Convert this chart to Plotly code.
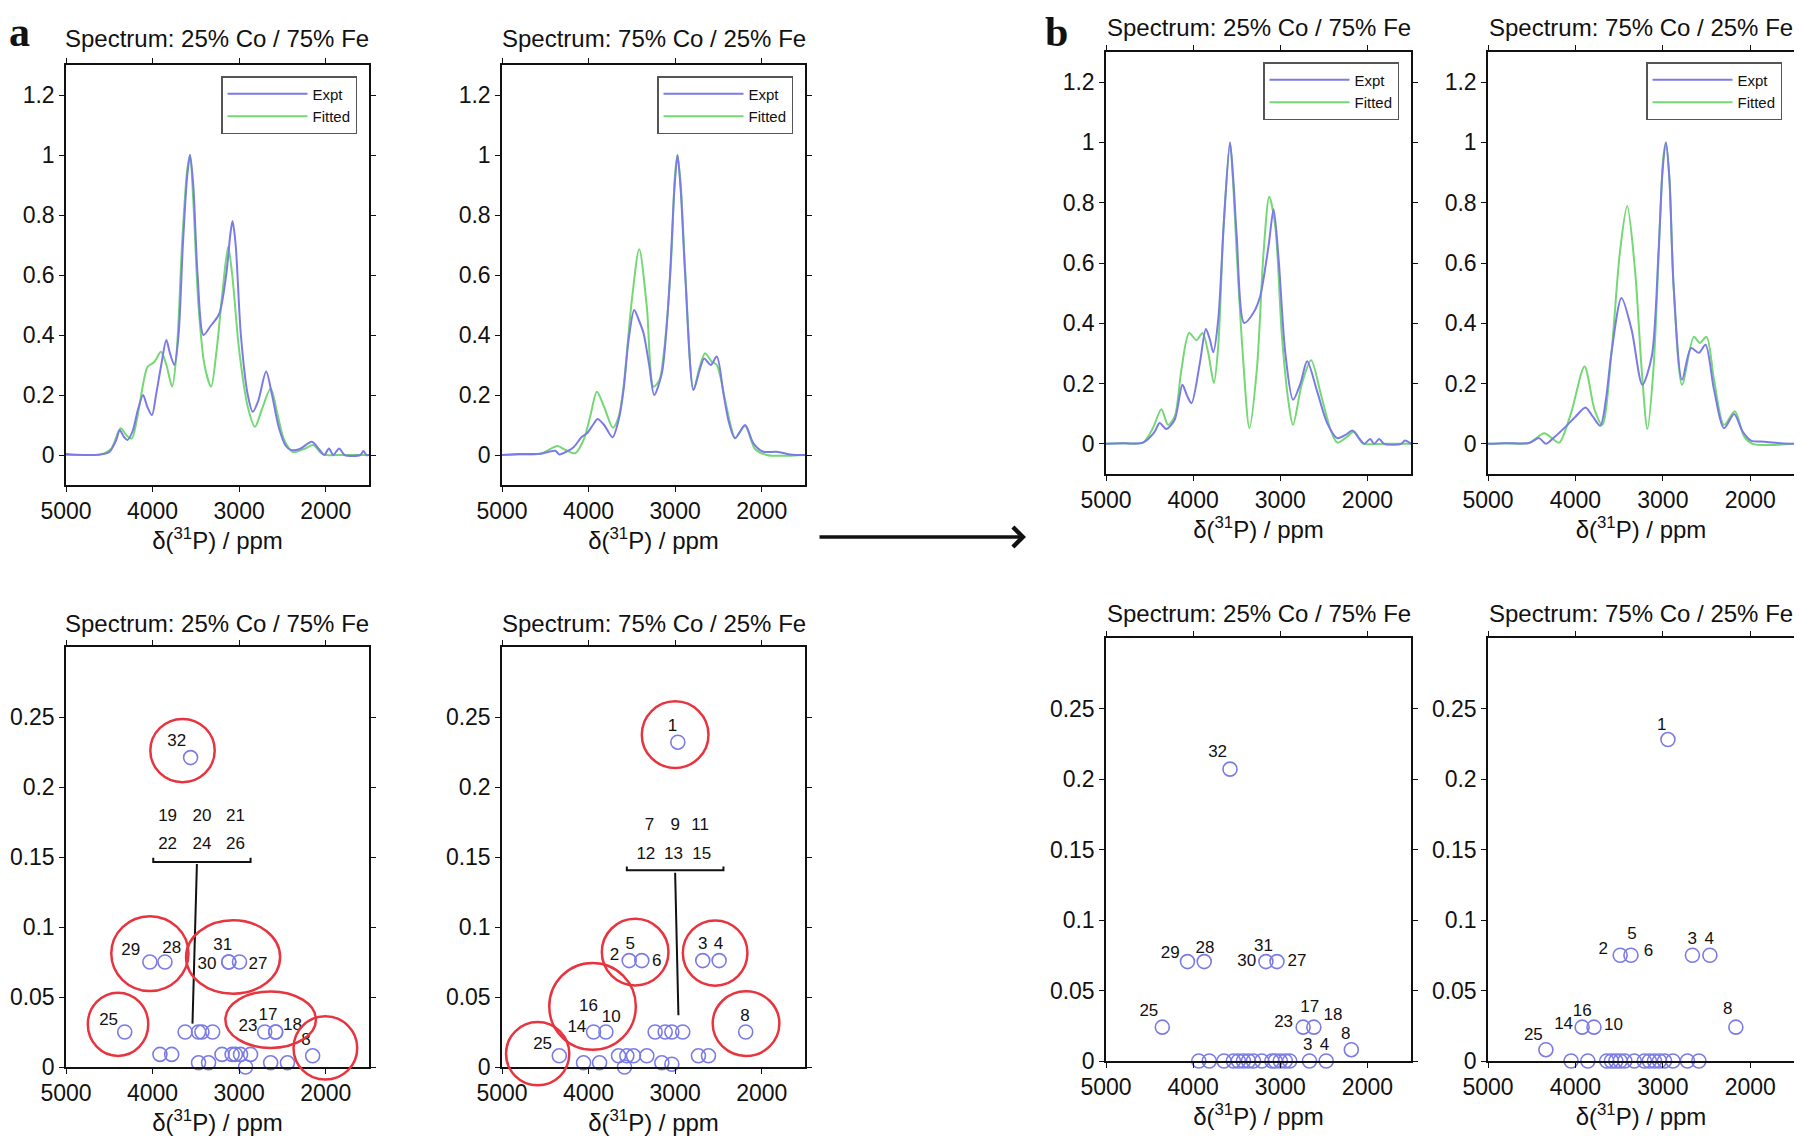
import plotly.graph_objects as go

# ---------------------------------------------------------------------------
# Spectra (ppm / normalised intensity)
# ---------------------------------------------------------------------------
# panel a, 25% Co / 75% Fe
A25_EXPT_PPM = [5000, 4800, 4600, 4500, 4420, 4380, 4330, 4290, 4230, 4170,
                4110, 4060, 4007, 3960, 3900, 3841, 3800, 3748, 3700, 3650,
                3600, 3567, 3530, 3480, 3412, 3330, 3231, 3150, 3100, 3076,
                3040, 2980, 2900, 2843, 2780, 2688, 2620, 2540, 2460, 2403,
                2300, 2160, 2080, 2015, 1963, 1912, 1845, 1782, 1600, 1565,
                1530, 1500]
A25_EXPT_INT = [0.003, 0, 0.002, 0.01, 0.05, 0.083, 0.06, 0.05, 0.08, 0.15,
                0.2, 0.16, 0.133, 0.2, 0.3, 0.383, 0.34, 0.3, 0.4, 0.7,
                0.93, 1.0, 0.9, 0.6, 0.4, 0.43, 0.47, 0.6, 0.74, 0.78,
                0.7, 0.4, 0.2, 0.144, 0.18, 0.278, 0.2, 0.09, 0.03, 0.017,
                0.02, 0.044, 0.02, 0, 0.022, 0, 0.022, 0, 0, 0.013,
                0, 0]
A25_FIT_PPM = [5000, 4800, 4600, 4480, 4369, 4300, 4240, 4180, 4100, 4058,
               3980, 3903, 3840, 3774, 3720, 3660, 3600, 3567, 3530, 3470,
               3400, 3324, 3260, 3190, 3127, 3080, 3000, 2900, 2817, 2740,
               2636, 2560, 2480, 2377, 2250, 2144, 2050, 1990, 1800, 1500]
A25_FIT_INT = [0, 0, 0.002, 0.02, 0.089, 0.065, 0.055, 0.12, 0.25, 0.294,
               0.31, 0.344, 0.3, 0.228, 0.35, 0.7, 0.95, 1.0, 0.85, 0.5,
               0.3, 0.228, 0.35, 0.55, 0.694, 0.6, 0.35, 0.16, 0.094, 0.15,
               0.222, 0.14, 0.05, 0.01, 0.02, 0.033, 0.005, 0, 0, 0]

# panel a, 75% Co / 25% Fe
A75_EXPT_PPM = [5000, 4800, 4558, 4385, 4338, 4250, 4173, 4077, 4019, 3950,
                3896, 3820, 3723, 3650, 3596, 3538, 3473, 3420, 3365, 3300,
                3242, 3154, 3100, 3058, 3010, 2973, 2935, 2885, 2788, 2720,
                2665, 2588, 2519, 2442, 2380, 2308, 2192, 2096, 1981, 1827,
                1673, 1500]
A75_EXPT_INT = [0, 0.003, 0.004, 0.014, 0.002, 0.012, 0.026, 0.061, 0.072, 0.1,
                0.12, 0.1, 0.059, 0.12, 0.217, 0.383, 0.483, 0.45, 0.406, 0.3,
                0.2, 0.272, 0.42, 0.606, 0.88, 1.0, 0.88, 0.606, 0.217, 0.28,
                0.322, 0.3, 0.328, 0.206, 0.11, 0.056, 0.1, 0.039, 0.011, 0.011,
                0.002, 0]
A75_FIT_PPM = [5000, 4800, 4558, 4358, 4269, 4154, 4058, 3980, 3904, 3820,
               3719, 3650, 3596, 3500, 3415, 3327, 3250, 3180, 3135, 3080,
               3038, 3005, 2973, 2935, 2885, 2788, 2720, 2654, 2577, 2519,
               2423, 2360, 2308, 2192, 2077, 1942, 1500]
A75_FIT_INT = [0, 0.002, 0.004, 0.03, 0.017, 0.006, 0.05, 0.13, 0.211, 0.16,
               0.091, 0.13, 0.228, 0.517, 0.686, 0.494, 0.228, 0.25, 0.33, 0.5,
               0.694, 0.92, 1.0, 0.9, 0.62, 0.217, 0.29, 0.339, 0.311, 0.3,
               0.183, 0.1, 0.056, 0.097, 0.02, 0, 0]

# panel b, 25% Co / 75% Fe
B25_EXPT_PPM = [5000, 4800, 4577, 4442, 4385, 4308, 4212, 4123, 4070, 4019,
                3923, 3854, 3808, 3769, 3712, 3646, 3577, 3540, 3500, 3415,
                3308, 3231, 3135, 3077, 3019, 2942, 2854, 2769, 2692, 2577,
                2462, 2346, 2250, 2173, 2100, 2038, 1969, 1923, 1865, 1808,
                1615, 1569, 1500]
B25_EXPT_INT = [0, 0.002, 0.004, 0.04, 0.069, 0.049, 0.08, 0.196, 0.16, 0.135,
                0.268, 0.381, 0.346, 0.304, 0.412, 0.745, 1.0, 0.88, 0.69, 0.401,
                0.435, 0.49, 0.656, 0.778, 0.612, 0.3, 0.146, 0.2, 0.274, 0.174,
                0.069, 0.019, 0.03, 0.044, 0.02, 0, 0.016, 0, 0.016, 0,
                0, 0.011, 0]
B25_FIT_PPM = [5000, 4800, 4577, 4462, 4365, 4288, 4212, 4135, 4046, 3962,
               3892, 3827, 3762, 3712, 3654, 3577, 3540, 3500, 3431, 3354,
               3269, 3192, 3127, 3058, 2981, 2904, 2854, 2750, 2646, 2538,
               2423, 2346, 2231, 2154, 2080, 2038, 1800, 1500]
B25_FIT_INT = [0, 0.002, 0.004, 0.052, 0.115, 0.063, 0.09, 0.246, 0.368, 0.344,
               0.368, 0.302, 0.202, 0.324, 0.7, 1.0, 0.86, 0.634, 0.3, 0.052,
               0.246, 0.634, 0.82, 0.723, 0.357, 0.135, 0.063, 0.202, 0.277, 0.169,
               0.047, 0.004, 0.024, 0.041, 0.01, 0, 0, 0]

# panel b, 75% Co / 25% Fe
B75_EXPT_PPM = [5000, 4800, 4531, 4415, 4338, 4242, 4108, 4000, 3885, 3800,
                3715, 3650, 3588, 3473, 3358, 3235, 3127, 3050, 3005, 2965,
                2925, 2877, 2781, 2677, 2588, 2512, 2415, 2300, 2185, 2088,
                1992, 1838, 1646, 1500]
B75_EXPT_INT = [0, 0.002, 0.003, 0.019, 0, 0.022, 0.058, 0.09, 0.121, 0.09,
                0.06, 0.15, 0.302, 0.484, 0.379, 0.196, 0.29, 0.634, 0.9, 1.0,
                0.88, 0.523, 0.213, 0.318, 0.302, 0.329, 0.18, 0.052, 0.099, 0.041,
                0.011, 0.007, 0.002, 0]
B75_FIT_PPM = [5000, 4800, 4531, 4358, 4262, 4185, 4050, 3896, 3781, 3692,
               3588, 3492, 3408, 3319, 3242, 3177, 3108, 3031, 2995, 2965,
               2925, 2877, 2781, 2646, 2577, 2500, 2415, 2300, 2177, 2069,
               1973, 1500]
B75_FIT_INT = [0, 0.002, 0.003, 0.035, 0.017, 0.004, 0.102, 0.257, 0.113, 0.063,
               0.302, 0.634, 0.789, 0.579, 0.246, 0.049, 0.246, 0.745, 0.95, 1.0,
               0.88, 0.523, 0.196, 0.355, 0.335, 0.355, 0.213, 0.063, 0.108, 0.024,
               0, 0]

# ---------------------------------------------------------------------------
# Site contributions (shift / weight) for the lower panels
# ---------------------------------------------------------------------------
A25_SITE_PPM = [4322, 4031, 3857, 3120, 3120, 2996, 3624, 3469, 3430, 3306,
                2705, 2578, 2578, 2151, 3915, 3779, 3198, 3081, 3043, 2984,
                2868, 3469, 3353, 2926, 2636, 2442, 3561]
A25_SITE_W = [0.025, 0.075, 0.075, 0.075, 0.075, 0.075, 0.025, 0.025, 0.025, 0.025,
              0.025, 0.025, 0.025, 0.008, 0.009, 0.009, 0.009, 0.009, 0.009, 0.009,
              0.009, 0.003, 0.003, 0, 0.003, 0.003, 0.221]
A25_LAB_TEXT = ["32", "29", "28", "31", "30", "27", "25", "23", "17", "18", "8",
                "19", "20", "21", "22", "24", "26"]
A25_LAB_PPM = [3720, 4252, 3779, 3190, 3372, 2783, 4508, 2899, 2667, 2384, 2229,
               3826, 3430, 3043, 3826, 3430, 3043]
A25_LAB_W = [0.232, 0.083, 0.0845, 0.0864, 0.0731, 0.0731, 0.0329, 0.029, 0.0364,
             0.0298, 0.019, 0.179, 0.179, 0.179, 0.159, 0.159, 0.159]

A75_SITE_PPM = [2969, 3531, 3385, 2681, 2492, 2185, 3942, 3800, 4338, 3654,
                3558, 3481, 3327, 2731, 2615, 3231, 3115, 3038, 2912, 4058,
                3873, 3154, 3038, 3585]
A75_SITE_W = [0.232, 0.076, 0.076, 0.076, 0.076, 0.025, 0.025, 0.025, 0.008, 0.008,
              0.008, 0.008, 0.008, 0.008, 0.008, 0.025, 0.025, 0.025, 0.025, 0.003,
              0.003, 0.003, 0.002, 0]
A75_LAB_TEXT = ["1", "5", "2", "6", "3", "4", "8", "16", "10", "14", "25",
                "7", "9", "11", "12", "13", "15"]
A75_LAB_PPM = [3031, 3519, 3700, 3212, 2681, 2500, 2192, 4000, 3738, 4135, 4531,
               3296, 3000, 2712, 3338, 3019, 2692]
A75_LAB_W = [0.2433, 0.0876, 0.0798, 0.075, 0.0876, 0.0876, 0.0357, 0.0433, 0.035,
             0.0279, 0.016, 0.1721, 0.1721, 0.1721, 0.1519, 0.1519, 0.1519]

B25_SITE_PPM = [3577, 4065, 3873, 3165, 3038, 4354, 2738, 2615, 2185, 2665,
                2473, 3935, 3815, 3646, 3538, 3481, 3423, 3365, 3308, 3212,
                3096, 3058, 3000, 2942, 2892]
B25_SITE_W = [0.207, 0.0705, 0.0705, 0.0705, 0.0705, 0.024, 0.024, 0.024, 0.008, 0,
              0, 0, 0, 0, 0, 0, 0, 0, 0, 0,
              0, 0, 0, 0, 0]
B25_LAB_TEXT = ["32", "29", "28", "31", "30", "27", "25", "23", "17", "18", "8",
                "3", "4"]
B25_LAB_PPM = [3719, 4262, 3865, 3192, 3385, 2808, 4508, 2962, 2662, 2396, 2250,
               2685, 2492]
B25_LAB_W = [0.2187, 0.0759, 0.0799, 0.0811, 0.0705, 0.0705, 0.035, 0.0272, 0.0378,
             0.0319, 0.0189, 0.0106, 0.0106]

B75_SITE_PPM = [2942, 3488, 3365, 2662, 2462, 3923, 3788, 2165, 4338, 4050,
                3858, 3642, 3588, 3538, 3488, 3435, 3327, 3212, 3154, 3096,
                3038, 2981, 2885, 2719, 2588]
B75_SITE_W = [0.228, 0.075, 0.075, 0.075, 0.075, 0.024, 0.024, 0.024, 0.008, 0,
              0, 0, 0, 0, 0, 0, 0, 0, 0, 0,
              0, 0, 0, 0, 0]
B75_LAB_TEXT = ["1", "5", "2", "6", "3", "4", "16", "14", "10", "8", "25"]
B75_LAB_PPM = [3012, 3354, 3681, 3165, 2665, 2469, 3923, 4135, 3565, 2258, 4481]
B75_LAB_W = [0.2381, 0.0896, 0.0789, 0.0777, 0.086, 0.086, 0.0351, 0.0256, 0.0249,
             0.0367, 0.0178]

# brackets grouping the unresolved sites (panel a)
A25_BRACKET_PPM = [3992, 3992, 2868, 2868]
A25_BRACKET_W = [0.1495, 0.1464, 0.1464, 0.1495]
A25_STEM_PPM = [3488, 3539]
A25_STEM_W = [0.145, 0.031]
A75_BRACKET_PPM = [3558, 3558, 2442, 2442]
A75_BRACKET_W = [0.1433, 0.1405, 0.1405, 0.1433]
A75_STEM_PPM = [3000, 2962]
A75_STEM_W = [0.1388, 0.0369]

# red rings highlighting site groups (centre / half-widths, data units)
A25_RING_PPM = [4399, 4031, 3070, 2636, 2004, 3654]
A25_RING_W = [0.0305, 0.081, 0.0786, 0.0338, 0.0136, 0.226]
A25_RING_RPPM = [349, 446, 543, 523, 368, 372]
A25_RING_RW = [0.0226, 0.0267, 0.0262, 0.0202, 0.0226, 0.0226]
A75_RING_PPM = [3000, 3462, 2538, 2181, 3954, 4588]
A75_RING_W = [0.2374, 0.0821, 0.0814, 0.031, 0.0433, 0.0095]
A75_RING_RPPM = [385, 385, 373, 385, 500, 365]
A75_RING_RW = [0.0238, 0.0238, 0.0233, 0.0231, 0.031, 0.0226]

TITLE_25 = "Spectrum: 25% Co / 75% Fe"
TITLE_75 = "Spectrum: 75% Co / 25% Fe"
X_TICKS = [5000, 4000, 3000, 2000]
TOP_Y_TICKS = [0, 0.2, 0.4, 0.6, 0.8, 1, 1.2]
BOT_Y_TICKS = [0, 0.05, 0.1, 0.15, 0.2, 0.25]

# ---------------------------------------------------------------------------
# Styling / layout
# ---------------------------------------------------------------------------
# the page body adds an 8 px margin, so the figure is made that much smaller
# and every position below (given in pixels of the original picture) is
# shifted by it
OFF = 8
FW, FH = 1802 - OFF, 1146 - OFF
FONT = "Liberation Sans, Arial, Helvetica, sans-serif"
SERIF = "Liberation Serif, Times New Roman, serif"
BLUE = "#7b7be6"
GREEN = "#74d874"
RED = "#e8343f"
INK = "#111111"

X_RANGE = [5000, 1500]
TOP_Y_RANGE = [-0.1, 1.3]
BOT_Y_RANGE = [0, 0.3]


def px_x(v):
    return (v - OFF) / FW


def px_y(v):
    return 1 - (v - OFF) / FH


# panel frames in picture pixels: (left, right) and (top, bottom)
COL_A_L = (66, 369)
COL_A_R = (502, 805)
COL_B_L = (1106, 1411)
COL_B_R = (1488, 1794)
ROW_A_TOP = (65, 485)
ROW_B_TOP = (52, 474)
ROW_A_BOT = (647, 1067)
ROW_B_BOT = (638, 1061)

# (index, columns, rows, kind, title, title centre y)
PANELS = [
    (1, COL_A_L, ROW_A_TOP, "top", TITLE_25, 39),
    (2, COL_A_R, ROW_A_TOP, "top", TITLE_75, 39),
    (3, COL_B_L, ROW_B_TOP, "top", TITLE_25, 27),
    (4, COL_B_R, ROW_B_TOP, "top", TITLE_75, 27),
    (5, COL_A_L, ROW_A_BOT, "bot", TITLE_25, 623),
    (6, COL_A_R, ROW_A_BOT, "bot", TITLE_75, 623),
    (7, COL_B_L, ROW_B_BOT, "bot", TITLE_25, 613),
    (8, COL_B_R, ROW_B_BOT, "bot", TITLE_75, 613),
]


def ref(letter, i):
    return letter if i == 1 else f"{letter}{i}"


def key(letter, i):
    return f"{letter}axis" if i == 1 else f"{letter}axis{i}"


def widen(dom, rng, pad_lo, pad_hi):
    # grow a domain and its range together so the scale stays identical
    k = (dom[1] - dom[0]) / abs(rng[1] - rng[0])
    s = 1 if rng[1] > rng[0] else -1
    return ([dom[0] - pad_lo * k, dom[1] + pad_hi * k],
            [rng[0] - s * pad_lo, rng[1] + s * pad_hi])


fig = go.Figure()

# --- spectra ---------------------------------------------------------------
SPECTRA = [
    (1, "legend", A25_EXPT_PPM, A25_EXPT_INT, A25_FIT_PPM, A25_FIT_INT),
    (2, "legend2", A75_EXPT_PPM, A75_EXPT_INT, A75_FIT_PPM, A75_FIT_INT),
    (3, "legend3", B25_EXPT_PPM, B25_EXPT_INT, B25_FIT_PPM, B25_FIT_INT),
    (4, "legend4", B75_EXPT_PPM, B75_EXPT_INT, B75_FIT_PPM, B75_FIT_INT),
]
for i, leg, ex, ey, fx, fy in SPECTRA:
    fig.add_trace(go.Scatter(
        x=fx, y=fy, mode="lines", name="Fitted", legend=leg, legendrank=2,
        line=dict(color=GREEN, width=2, shape="spline", smoothing=0.8),
        xaxis=ref("x", i), yaxis=ref("y", i), hoverinfo="skip"))
    fig.add_trace(go.Scatter(
        x=ex, y=ey, mode="lines", name="Expt", legend=leg, legendrank=1,
        line=dict(color=BLUE, width=2, shape="spline", smoothing=0.8),
        xaxis=ref("x", i), yaxis=ref("y", i), hoverinfo="skip"))

# --- site weights ------------------------------------------------------------
SITES = [
    (5, A25_SITE_PPM, A25_SITE_W, A25_LAB_TEXT, A25_LAB_PPM, A25_LAB_W),
    (6, A75_SITE_PPM, A75_SITE_W, A75_LAB_TEXT, A75_LAB_PPM, A75_LAB_W),
    (7, B25_SITE_PPM, B25_SITE_W, B25_LAB_TEXT, B25_LAB_PPM, B25_LAB_W),
    (8, B75_SITE_PPM, B75_SITE_W, B75_LAB_TEXT, B75_LAB_PPM, B75_LAB_W),
]
for i, sx, sy, lt, lx, ly in SITES:
    fig.add_trace(go.Scatter(
        x=sx, y=sy, mode="markers", showlegend=False, cliponaxis=False,
        marker=dict(symbol="circle-open", size=14, color=BLUE,
                    line=dict(width=1.6, color=BLUE)),
        xaxis=ref("x", i), yaxis=ref("y", i), hoverinfo="skip"))
    fig.add_trace(go.Scatter(
        x=lx, y=ly, mode="text", text=lt, showlegend=False, cliponaxis=False,
        textfont=dict(family=FONT, size=17, color=INK),
        xaxis=ref("x", i), yaxis=ref("y", i), hoverinfo="skip"))

for i, bx, by, stx, sty in [(5, A25_BRACKET_PPM, A25_BRACKET_W, A25_STEM_PPM, A25_STEM_W),
                            (6, A75_BRACKET_PPM, A75_BRACKET_W, A75_STEM_PPM, A75_STEM_W)]:
    for xs, ys in [(bx, by), (stx, sty)]:
        fig.add_trace(go.Scatter(
            x=xs, y=ys, mode="lines", showlegend=False, hoverinfo="skip",
            line=dict(color=INK, width=2),
            xaxis=ref("x", i), yaxis=ref("y", i)))

# --- layout: axes -------------------------------------------------------------
layout = dict(
    width=FW, height=FH, margin=dict(l=0, r=0, t=0, b=0, autoexpand=False),
    paper_bgcolor="white", plot_bgcolor="rgba(0,0,0,0)",
    font=dict(family=FONT, color=INK),
    annotations=[], shapes=[],
)

axis_common = dict(
    showline=True, linecolor=INK, linewidth=1.5, mirror="ticks",
    ticks="outside", ticklen=5, tickwidth=1.3, tickcolor=INK,
    showgrid=False, zeroline=False, fixedrange=True, automargin=False,
    tickfont=dict(family=FONT, size=23, color=INK),
)

for i, cols, rows, kind, title, ty in PANELS:
    xd = [px_x(cols[0]), px_x(cols[1])]
    yd = [px_y(rows[1]), px_y(rows[0])]
    layout[key("x", i)] = dict(
        axis_common, domain=xd, range=X_RANGE, tickvals=X_TICKS,
        anchor=ref("y", i),
        title=dict(text="δ(<sup>31</sup>P) / ppm", standoff=8,
                   font=dict(family=FONT, size=24, color=INK)))
    layout[key("y", i)] = dict(
        axis_common, domain=yd, anchor=ref("x", i),
        range=TOP_Y_RANGE if kind == "top" else BOT_Y_RANGE,
        tickvals=TOP_Y_TICKS if kind == "top" else BOT_Y_TICKS)
    layout["annotations"].append(dict(
        text=title, xref="paper", yref="paper",
        x=(xd[0] + xd[1]) / 2, y=px_y(ty), xanchor="center", yanchor="middle",
        showarrow=False, font=dict(family=FONT, size=24, color=INK)))

# legends for the four spectra (top-right corner of each box, picture px)
LEGEND_POS = [("legend", 357, 76), ("legend2", 793, 76),
              ("legend3", 1399, 62), ("legend4", 1782, 62)]
for name, lx, ly in LEGEND_POS:
    layout[name] = dict(
        x=px_x(lx), y=px_y(ly), xanchor="right", yanchor="top",
        xref="paper", yref="paper",
        bgcolor="white", bordercolor="#555555", borderwidth=1.5,
        font=dict(family=FONT, size=15, color=INK), itemwidth=80,
        tracegroupgap=0)

# red rings: drawn on invisible twin axes with the same scale but a larger
# domain, so rings may run past the frame as in the original
for i, ring_axis, cx, cy, rx, ry in [
        (5, 9, A25_RING_PPM, A25_RING_W, A25_RING_RPPM, A25_RING_RW),
        (6, 10, A75_RING_PPM, A75_RING_W, A75_RING_RPPM, A75_RING_RW)]:
    xd = layout[key("x", i)]["domain"]
    yd = layout[key("y", i)]["domain"]
    xdom, xrng = widen(xd, X_RANGE, 200, 200)
    ydom, yrng = widen(yd, BOT_Y_RANGE, 0.03, 0.0)
    layout[key("x", ring_axis)] = dict(domain=xdom, range=xrng, visible=False,
                                       anchor=ref("y", ring_axis), fixedrange=True,
                                       automargin=False)
    layout[key("y", ring_axis)] = dict(domain=ydom, range=yrng, visible=False,
                                       anchor=ref("x", ring_axis), fixedrange=True,
                                       automargin=False)
    fig.add_trace(go.Scatter(
        x=cx, y=cy, mode="markers", showlegend=False, hoverinfo="skip",
        marker=dict(size=1, opacity=0),
        xaxis=ref("x", ring_axis), yaxis=ref("y", ring_axis)))
    for px, py, hx, hy in zip(cx, cy, rx, ry):
        layout["shapes"].append(dict(
            type="circle", xref=ref("x", ring_axis), yref=ref("y", ring_axis),
            x0=px - hx, x1=px + hx, y0=py - hy, y1=py + hy,
            line=dict(color=RED, width=2.5), fillcolor="rgba(0,0,0,0)",
            layer="above"))

# panel letters and the arrow between the panels
layout["annotations"] += [
    dict(text="<b>a</b>", xref="paper", yref="paper", x=0.0, y=1.0,
         showarrow=False, xanchor="left", yanchor="top", borderpad=0,
         font=dict(family=SERIF, size=42, color=INK)),
    dict(text="<b>b</b>", xref="paper", yref="paper", x=px_x(1056), y=1.0,
         showarrow=False, xanchor="center", yanchor="top", borderpad=0,
         font=dict(family=SERIF, size=42, color=INK)),
    dict(text="", xref="paper", yref="paper", x=px_x(1026), y=px_y(537),
         ax=-208, ay=0, showarrow=True, arrowhead=4, arrowsize=1.1,
         arrowwidth=3.5, arrowcolor=INK),
]

fig.update_layout(**layout)
fig.write_html("out.html")
